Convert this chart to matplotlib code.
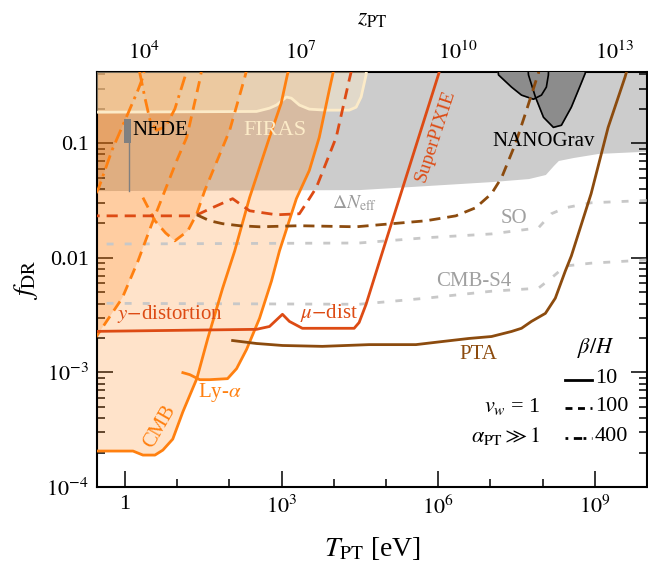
import numpy as np
import matplotlib.pyplot as plt
from matplotlib.path import Path
from matplotlib.patches import PathPatch
from matplotlib.ticker import NullFormatter

plt.rcParams['font.family'] = 'serif'
plt.rcParams['font.serif'] = ['Liberation Serif', 'DejaVu Serif']
plt.rcParams['mathtext.fontset'] = 'stix'

c_orange = '#ff8010'
c_red = '#dd4b14'
c_brown = '#8c4b0e'
c_gray = '#cccccc'
c_firas = '#fcebc8'
c_proj = '#c8c8c8'

T0 = 2.35e-4  # eV

# Delta N_eff excluded region (lower edge)
neff_T = [0.2, 30500, 5.8e5, 1.05e7, 5.36e7, 1.13e8, 1.61e8, 2.0e8, 3.87e8, 1.16e9, 2e10]
neff_f = [0.0387, 0.0395, 0.0428, 0.0464, 0.0493, 0.0535, 0.0641, 0.0709, 0.0753, 0.0817, 0.0868]

# FIRAS
firas_T = [0.2, 330, 585, 796, 1236, 1538, 2187, 3390, 7160, 19680, 26700, 33300, 41500, 45000]
firas_f = [0.187, 0.19, 0.203, 0.216, 0.254, 0.248, 0.216, 0.199, 0.195, 0.195, 0.207, 0.254, 0.396, 0.6]

# CMB (beta/H = 10, 100, 400)
cmb10_T = [0.2, 1.42, 2.2, 3.74, 5.3, 8.2, 12.8, 23.7, 38.4, 74, 126, 243, 585, 980, 1291, 1494]
cmb10_f = [2.06e-4, 2.06e-4, 1.9e-4, 1.9e-4, 2.1e-4, 2.62e-4, 4.53e-4, 8.83e-4, 1.98e-3, 5.44e-3,
           0.0115, 0.0336, 0.113, 0.224, 0.40, 0.5]
cmb100_T = [0.25, 0.36, 0.88, 1.77, 3.27, 5.8, 9.8, 15.2, 27, 31]
cmb100_f = [0.0019, 0.00243, 0.00445, 0.0094, 0.0199, 0.0387, 0.0709, 0.113, 0.357, 0.5]
cmb400_T = [0.27, 0.31, 0.56, 1.14, 1.77, 2.2, 2.5]
cmb400_f = [0.036, 0.0403, 0.0868, 0.183, 0.292, 0.38, 0.5]

# Lyman-alpha
lya10_T = [12.8, 17.4, 27, 41.9, 92, 137, 213, 377, 638, 908, 1916, 3390, 5260, 8170, 9740, 10500]
lya10_f = [9.96e-4, 9.57e-4, 8.65e-4, 8.65e-4, 8.83e-4, 1.08e-3, 1.59e-3, 2.97e-3, 6.27e-3, 0.0115,
           0.0329, 0.058, 0.113, 0.292, 0.42, 0.5]
lya100_T = [2.2, 3.74, 6.0, 9.0, 15.9, 23.7, 33.6, 74, 101, 195, 230]
lya100_f = [0.0336, 0.0211, 0.0165, 0.0141, 0.0172, 0.0243, 0.0387, 0.0922, 0.130, 0.372, 0.5]
lya400_T = [1.9, 2.4, 3.0, 4.0, 6.0, 9.0, 14, 16]
lya400_f = [0.42, 0.25, 0.16, 0.13, 0.14, 0.2, 0.38, 0.5]

# mu / y distortions and SuperPIXIE
dist10_T = [0.2, 330, 585, 1036, 1409, 2495, 24500, 30500, 41500, 84000, 1.03e6, 1.12e6]
dist10_f = [0.00228, 0.00238, 0.00252, 0.00322, 0.00279, 0.00243, 0.00243, 0.00273, 0.00394,
            0.0110, 0.41, 0.484]
dist100_T = [0.2, 21.7, 41.9, 115, 243, 796, 2187, 3390, 4613, 11100, 19680, 23500]
dist100_f = [0.0233, 0.0233, 0.0268, 0.0329, 0.0258, 0.0238, 0.0243, 0.0329, 0.0411, 0.113,
             0.357, 0.5]

# PTA
pta10_T = [115, 330, 1036, 6010, 47400, 3.74e5, 1.17e6, 3.84e6, 1.05e7, 2.54e7, 3.94e7, 6.1e7,
           1.13e8, 1.75e8, 2.72e8, 3.55e8, 8.5e8, 1.8e9, 3.8e9, 4.5e9]
pta10_f = [0.0019, 0.00179, 0.00172, 0.00169, 0.00175, 0.00175, 0.00186, 0.00198, 0.00206,
           0.00228, 0.00243, 0.00279, 0.00328, 0.00445, 0.00768, 0.0104, 0.0364, 0.138, 0.38, 0.5]
pta100_T = [23.7, 41.9, 74, 157, 377, 2187, 26700, 1.3e5, 5.8e5, 2.17e6, 5.2e6, 1.05e7, 1.64e7,
            3.03e7, 4.7e7, 8.3e7, 9.2e7]
pta100_f = [0.0238, 0.0211, 0.0199, 0.0191, 0.0187, 0.0191, 0.0187, 0.0199, 0.0211, 0.0233,
            0.0274, 0.0364, 0.0503, 0.1, 0.183, 0.41, 0.5]

# projected N_eff sensitivities
so_T = [0.2, 30500, 5.8e5, 1.05e7, 8.3e7, 1.47e8, 2.72e8, 8.5e8, 2e10]
so_f = [0.0132, 0.0135, 0.0150, 0.0162, 0.0183, 0.0243, 0.0274, 0.0303, 0.0322]
s4_T = [0.2, 30500, 5.8e5, 1.05e7, 8.3e7, 1.47e8, 2.72e8, 8.5e8, 2e10]
s4_f = [0.00402, 0.00394, 0.00445, 0.00512, 0.00544, 0.00667, 0.0085, 0.0090, 0.00978]

# NANOGrav contours
ng1_T = [1.3e7, 1.43e7, 2.54e7, 3.94e7, 6.67e7, 9.5e7, 1.18e8, 1.29e8, 1.32e8]
ng1_f = [0.6, 0.396, 0.31, 0.264, 0.243, 0.264, 0.31, 0.396, 0.6]
ng2_T = [5.0e7, 5.36e7, 7.28e7, 1.04e8, 1.61e8, 2.29e8, 3.55e8, 5.5e8, 6.56e8, 7.0e8]
ng2_f = [0.6, 0.396, 0.254, 0.169, 0.138, 0.144, 0.207, 0.336, 0.41, 0.6]

# NEDE
nede_T = [0.96, 1.28]
nede_f = [0.1, 0.1625]
nede_line_T = 1.21
nede_line_f = [0.0387, 0.1]


def region(curves):
    verts, codes = [], []
    for T, f in curves:
        pts = list(zip(T, f)) + [(T[-1], 10.0), (T[0], 10.0)]
        verts += pts + [pts[0]]
        codes += [Path.MOVETO] + [Path.LINETO] * (len(pts) - 1) + [Path.CLOSEPOLY]
    return Path(verts, codes)


fig = plt.figure(figsize=(6.48, 5.61), dpi=100)
ax = fig.add_axes([97 / 648, 74 / 561, 550 / 648, 415 / 561])
ax.set_xscale('log')
ax.set_yscale('log')
ax.set_xlim(0.29, 1e10)
ax.set_ylim(1e-4, 0.42)

# excluded regions
ax.fill_between(neff_T, neff_f, 10, color=c_gray, lw=0, zorder=1)
for grp in [[(cmb10_T, cmb10_f), (lya10_T, lya10_f)],
            [(cmb100_T, cmb100_f), (lya100_T, lya100_f)],
            [(cmb400_T, cmb400_f), (lya400_T, lya400_f)]]:
    ax.add_patch(PathPatch(region(grp), facecolor=c_orange, alpha=0.22, lw=0, zorder=2))
ax.fill_between(firas_T, firas_f, 10, color=c_firas, alpha=0.45, lw=0, zorder=3)
ax.fill(ng1_T, ng1_f, color='#8c8c8c', zorder=3)
ax.fill(ng2_T, ng2_f, color='#8c8c8c', zorder=3)
ax.plot(ng1_T, ng1_f, color='k', lw=1.2, zorder=3)
ax.plot(ng2_T, ng2_f, color='k', lw=1.2, zorder=3)

dash = (0, (4, 2.5))
dashdot = (0, (5, 2, 1, 2))
ax.plot(firas_T, firas_f, color=c_firas, lw=2, zorder=4)
ax.plot(so_T, so_f, color=c_proj, lw=2, ls=(0, (2.5, 4)), zorder=4)
ax.plot(s4_T, s4_f, color=c_proj, lw=2, ls=(0, (2.5, 4)), zorder=4)

ax.plot(cmb10_T, cmb10_f, color=c_orange, lw=2, zorder=5)
ax.plot(lya10_T, lya10_f, color=c_orange, lw=2, zorder=5)
ax.plot(cmb100_T, cmb100_f, color=c_orange, lw=2, ls=dash, zorder=5)
ax.plot(lya100_T, lya100_f, color=c_orange, lw=2, ls=dash, zorder=5)
ax.plot(cmb400_T, cmb400_f, color=c_orange, lw=2, ls=dashdot, zorder=5)
ax.plot(lya400_T, lya400_f, color=c_orange, lw=2, ls=dashdot, zorder=5)
ax.plot(dist10_T, dist10_f, color=c_red, lw=2, zorder=5)
ax.plot(dist100_T, dist100_f, color=c_red, lw=2, ls=dash, zorder=5)
ax.plot(pta10_T, pta10_f, color=c_brown, lw=2, zorder=5)
ax.plot(pta100_T, pta100_f, color=c_brown, lw=2, ls=dash, zorder=5)

# NEDE
ax.fill_between(nede_T, nede_f[0], nede_f[1], color='#808080', lw=0, zorder=5)
ax.plot([nede_line_T] * 2, nede_line_f, color='#808080', lw=1, zorder=5)

# labels
kw = dict(ha='center', va='center', zorder=6)
ax.text(1.36, 0.13, 'NEDE', fontsize=15, color='k', ha='left', va='center', zorder=6)
ax.text(730, 0.13, 'FIRAS', fontsize=16, color=c_firas, **kw)
ax.text(24500, 0.0303, r'$\Delta N_{\rm eff}$', fontsize=14, color='#9a9a9a', **kw)
ax.text(9e5, 0.1175, 'SuperPIXIE', fontsize=14, color=c_red, rotation=72, **kw)
ax.text(1.04e8, 0.104, 'NANOGrav', fontsize=15, color='k', **kw)
ax.text(2.77e7, 0.022, 'SO', fontsize=15, color='#a0a0a0', **kw)
ax.text(4.78e6, 0.00627, 'CMB-S4', fontsize=15, color='#a0a0a0', **kw)
ax.text(7.2, 0.00322, r'$y$$-$distortion', fontsize=15, color=c_red, **kw)
ax.text(8170, 0.00328, r'$\mu$$-$dist', fontsize=15, color=c_red, **kw)
ax.text(5.96e6, 0.00143, 'PTA', fontsize=15, color=c_brown, **kw)
ax.text(65, 6.65e-4, r'Ly-$\alpha$', fontsize=15, color=c_orange, **kw)
ax.text(4.66, 3.34e-4, 'CMB', fontsize=15, color=c_orange, rotation=60, **kw)

# legend
ax.text(0.907, 0.335, r'$\beta/H$', transform=ax.transAxes, fontsize=16, ha='center', va='center')
for yy, ls, lab in [(0.258, '-', '10'), (0.19, (0, (2.5, 2)), '100'), (0.118, (0, (1, 2, 3, 0.5)), '400')]:
    ax.plot([0.851, 0.9], [yy, yy], transform=ax.transAxes, color='k', lw=2, ls=ls)
    ax.text(0.905, yy + 0.004, lab, transform=ax.transAxes, fontsize=16, ha='left', va='center')
ax.text(0.807, 0.194, r'$v_w$ = 1', transform=ax.transAxes, fontsize=16, ha='right', va='center')
ax.text(0.807, 0.122, r'$\alpha_{\rm PT} \gg 1$', transform=ax.transAxes, fontsize=16,
        ha='right', va='center')

# axes and ticks
ax.set_xticks([1, 1e3, 1e6, 1e9])
ax.set_xticklabels(['1', r'$10^3$', r'$10^6$', r'$10^9$'])
ax.set_xticks([10.0 ** k for k in range(0, 10) if k % 3 != 0], minor=True)
ax.xaxis.set_minor_formatter(NullFormatter())
ax.set_yticks([1e-4, 1e-3, 1e-2, 1e-1])
ax.set_yticklabels([r'$10^{-4}$', r'$10^{-3}$', '0.01', '0.1'])
ax.yaxis.set_minor_formatter(NullFormatter())
ax.tick_params(which='both', direction='in', labelsize=16, width=1.1, top=False, right=True)
ax.tick_params(which='major', length=11.5, pad=6)
ax.tick_params(which='minor', length=5.5)
for s in ax.spines.values():
    s.set_linewidth(1.5)
ax.set_xlabel(r'$T_{\rm PT}$ [eV]', fontsize=20, labelpad=12)
ax.set_ylabel(r'$f_{\rm DR}$', fontsize=20, labelpad=4)

sec = ax.secondary_xaxis('top', functions=(lambda T: T / T0, lambda z: z * T0))
sec.set_xticks([1e4, 1e7, 1e10, 1e13])
sec.set_xticklabels([r'$10^4$', r'$10^7$', r'$10^{10}$', r'$10^{13}$'])
sec.set_xticks([10.0 ** k for k in range(3, 15) if k % 3 != 1], minor=True)
sec.xaxis.set_minor_formatter(NullFormatter())
sec.tick_params(which='both', direction='in', labelsize=16, width=1.1)
sec.tick_params(which='major', length=11.5, pad=6)
sec.tick_params(which='minor', length=5.5)
sec.set_xlabel(r'$z_{\rm PT}$', fontsize=17, labelpad=12)

fig.savefig('out.png', dpi=100)
